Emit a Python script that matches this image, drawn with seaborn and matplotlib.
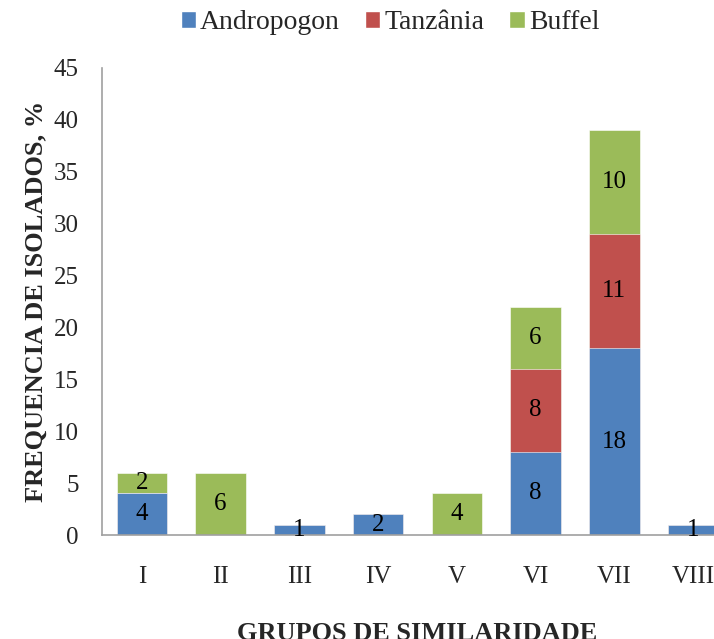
import numpy as np
import pandas as pd
import seaborn as sns
import matplotlib.pyplot as plt
from matplotlib.patches import Patch

grupos = ['I', 'II', 'III', 'IV', 'V', 'VI', 'VII', 'VIII']
andropogon = [4, 0, 1, 2, 0, 8, 18, 1]
tanzania = [0, 0, 0, 0, 0, 8, 11, 0]
buffel = [2, 6, 0, 0, 4, 6, 10, 0]

series = ['Andropogon', 'Tanzânia', 'Buffel']
cores = ['#4F81BD', '#C0504D', '#9BBB59']

sns.set_style('white')
plt.rcParams['font.family'] = ['Liberation Serif', 'DejaVu Serif']

df = pd.DataFrame({'grupo': grupos, 'Andropogon': andropogon,
                   'Tanzânia': tanzania, 'Buffel': buffel})
df['c1'] = df['Andropogon']
df['c2'] = df['c1'] + df['Tanzânia']
df['c3'] = df['c2'] + df['Buffel']

fig = plt.figure(figsize=(7.14, 6.39), dpi=100)
ax = fig.add_axes([102.5 / 714, 104 / 639, 630 / 714, 467 / 639])

# draw cumulative totals from the top layer down
for col, cor in zip(['c3', 'c2', 'c1'], cores[::-1]):
    sns.barplot(data=df, x='grupo', y=col, color=cor, width=0.64,
                edgecolor='white', linewidth=0.4, ax=ax, saturation=1)

# segment labels
for i in range(len(grupos)):
    base = 0
    for vals in (andropogon, tanzania, buffel):
        v = vals[i]
        if v > 0:
            ax.text(i, base + v / 2, str(v), ha='center', va='center',
                    fontsize=18, color='black')
        base += v

ax.set_ylim(0, 45)
ax.set_xlim(-0.5, 7.5)
ax.set_yticks(np.arange(0, 46, 5))
ax.tick_params(axis='y', labelsize=18, length=0, pad=17)
ax.tick_params(axis='x', labelsize=18, length=0, pad=22)
ax.set_xlabel('GRUPOS DE SIMILARIDADE', fontsize=19, fontweight='bold',
              labelpad=25)
ax.set_ylabel('FREQUENCIA DE ISOLADOS, %', fontsize=19, fontweight='bold')
ax.yaxis.set_label_coords(-0.087, 0.5)
for s in ['top', 'right']:
    ax.spines[s].set_visible(False)
for s in ['left', 'bottom']:
    ax.spines[s].set_color('#A0A0A0')
    ax.spines[s].set_linewidth(1.2)

handles = [Patch(facecolor=c, label=s) for s, c in zip(series, cores)]
fig.legend(handles=handles, loc='upper center', bbox_to_anchor=(390 / 714, 1.01),
           ncol=3, frameon=False, fontsize=20, handlelength=0.55,
           handleheight=0.55, handletextpad=0.15, columnspacing=0.9,
           borderaxespad=0.2)

fig.savefig('out.png', dpi=100)
